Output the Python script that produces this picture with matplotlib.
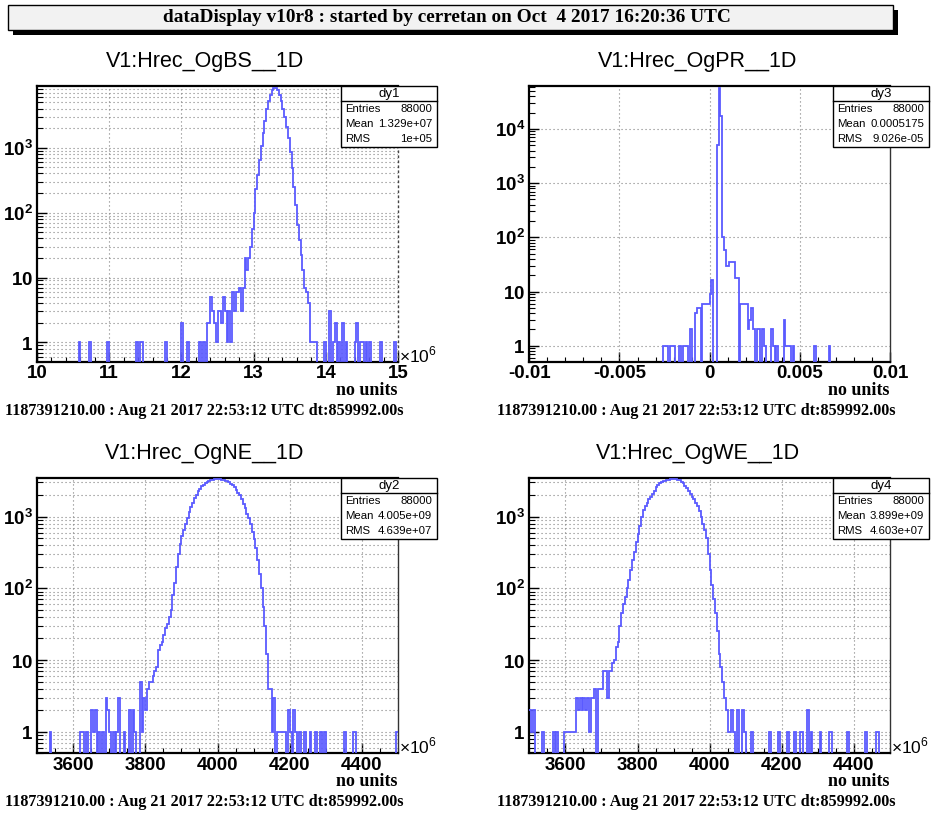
import numpy as np
import matplotlib
matplotlib.use("Agg")
import matplotlib.pyplot as plt
from matplotlib.patches import Rectangle
from matplotlib.lines import Line2D
from matplotlib.ticker import FixedLocator, LogLocator, FuncFormatter, NullFormatter

W, H = 932, 816
plt.rcParams['mathtext.fontset'] = 'custom'
plt.rcParams['mathtext.rm'] = 'Liberation Sans'
plt.rcParams['mathtext.bf'] = 'Liberation Sans:bold'
SANS = 'Liberation Sans'
SERIF = 'Liberation Serif'
LINE = '#5a5aff'
NBINS = 200
TICKFS = 13.5

# ---------------- data: per-bin counts (200 bins per histogram) ----------------
# V1:Hrec_OgBS__1D, x in units of 1e6
bs_range = (10.0, 15.0)
bs_core_first = 94
bs_core_counts = [2, 2, 5, 3, 2, 1, 3, 3, 2, 5, 3, 1, 3, 1, 6, 3, 6, 6, 7, 3, 7, 20, 13, 20, 30,
                  55, 100, 230, 380, 650, 1050, 1700, 2600, 4000, 5300, 6500, 7600, 8200, 8260, 7600,
                  6450, 5300, 4000, 3000, 2100, 1400, 850, 480, 250, 130, 65, 38, 22, 13, 7, 6, 4]
bs_tail_bins = [23, 29, 39, 55, 57, 58, 71, 80, 83, 90, 92,
                151, 152, 153, 154, 159, 162, 164, 165, 167, 169, 171, 176, 177, 179, 180, 182, 184, 190, 198]
bs_tail_counts = [1, 1, 1, 1, 1, 1, 1, 2, 1, 1, 1,
                  1, 1, 1, 1, 1, 3, 1, 2, 1, 2, 1, 1, 2, 1, 1, 1, 1, 1, 1]

# V1:Hrec_OgPR__1D
pr_range = (-0.01, 0.01)
pr_bins = [74, 75, 76, 78, 79, 80, 83, 85, 86, 87, 89, 92, 93, 94, 96, 97, 98, 99, 100, 101,
           104, 105, 106, 107, 108, 109, 110, 111, 112, 113, 114, 115, 117, 118, 119, 120,
           121, 122, 123, 124, 126, 127, 129, 130, 134, 135, 137, 141, 142, 143, 144, 146, 158, 166]
pr_counts = [1, 1, 1, 1, 1, 1, 1, 1, 1, 1, 2, 4, 5, 5, 6, 6, 6, 6, 9, 16,
             5000, 58000, 17000, 100, 58, 29, 29, 35, 35, 35, 18, 18, 6, 6, 6, 6,
             2, 3, 5, 2, 2, 2, 2, 1, 2, 1, 1, 3, 1, 1, 1, 1, 1, 1]

# V1:Hrec_OgNE__1D, x in units of 1e6
ne_range = (3500.0, 4500.0)
ne_core_first = 56
ne_core_counts = [0, 5, 1, 3, 2, 4, 5, 5, 6, 7, 8, 14, 16, 18, 22, 28, 32, 40, 50, 80,
                  120, 200, 300, 420, 530, 650, 800, 950, 1150, 1350, 1550, 1800, 2000, 2250, 2450,
                  2650, 2800, 2950, 3050, 3150, 3220, 3270, 3300, 3320, 3320, 3310, 3280, 3240, 3180,
                  3100, 3000, 2880, 2730, 2550, 2350, 2150, 2000, 1750, 1500, 1300, 1100, 950, 780,
                  620, 480, 360, 250, 160, 100, 55, 30, 12, 4, 4, 1]
ne_tail_bins = [7, 24, 25, 27, 30, 31, 32, 34, 36, 38, 39, 40, 42, 44, 45, 48, 51, 53, 54,
                131, 133, 134, 135, 136, 137, 139, 140, 142, 143, 145, 148, 151, 154, 157, 159,
                170, 175, 176, 199]
ne_tail_counts = [1, 1, 1, 1, 2, 1, 2, 1, 1, 3, 2, 1, 1, 1, 3, 1, 2, 2, 1,
                  3, 1, 1, 1, 1, 1, 2, 1, 2, 1, 1, 1, 1, 1, 1, 1,
                  1, 1, 1, 1]

# V1:Hrec_OgWE__1D, x in units of 1e6
we_range = (3500.0, 4500.0)
we_core_first = 36
we_core_counts = [4, 0, 4, 4, 4, 7, 7, 3, 7, 7, 9, 10, 15, 18, 30, 45, 60, 75, 100, 130,
                  180, 250, 320, 440, 580, 750, 1000, 1250, 1400, 1550, 1750, 1900, 2100, 2300,
                  2550, 2750, 2900, 3000, 3100, 3150, 3200, 3250, 3300, 3320, 3320, 3300, 3250,
                  3200, 3050, 2900, 2700, 2500, 2250, 2050, 1900, 1750, 1550, 1400, 1200, 1000,
                  800, 650, 500, 300, 180, 110, 70, 45, 25, 12, 8, 5, 3, 2]
we_tail_bins = [0, 1, 2, 7, 13, 15, 19, 20, 21, 22, 23, 24, 25, 26, 27, 28, 29, 30, 31, 32, 33, 34, 35,
                110, 111, 112, 113, 115, 118, 119, 123, 133, 138, 143, 147, 150, 151, 154, 156,
                161, 166, 167, 176, 186, 192, 193]
we_tail_counts = [2, 1, 2, 1, 1, 1, 1, 1, 1, 1, 1, 1, 1, 3, 2, 3, 2, 3, 2, 3, 1, 3, 3,
                  1, 1, 2, 1, 2, 2, 1, 1, 1, 1, 1, 1, 1, 1, 2, 1,
                  1, 1, 1, 1, 1, 1, 1]

stats = {
    'dy1': [('Entries', '88000'), ('Mean', '1.329e+07'), ('RMS', '1e+05')],
    'dy3': [('Entries', '88000'), ('Mean', '0.0005175'), ('RMS', '9.026e-05')],
    'dy2': [('Entries', '88000'), ('Mean', '4.005e+09'), ('RMS', '4.639e+07')],
    'dy4': [('Entries', '88000'), ('Mean', '3.899e+09'), ('RMS', '4.603e+07')],
}

run_title = 'dataDisplay v10r8 : started by cerretan on Oct  4 2017 16:20:36 UTC'
stamp = '1187391210.00 : Aug 21 2017 22:53:12 UTC dt:859992.00s'


def build(core_first=None, core=(), tail_bins=(), tail_counts=()):
    c = np.zeros(NBINS)
    for b, v in zip(tail_bins, tail_counts):
        c[b] = v
    if core_first is not None:
        c[core_first:core_first + len(core)] = core
    return c


bs_hist = build(bs_core_first, bs_core_counts, bs_tail_bins, bs_tail_counts)
pr_hist = build(None, (), pr_bins, pr_counts)
ne_hist = build(ne_core_first, ne_core_counts, ne_tail_bins, ne_tail_counts)
we_hist = build(we_core_first, we_core_counts, we_tail_bins, we_tail_counts)

# ---------------- layout helpers (pixel coordinates, origin top-left) ----------------
def fx(x):
    return x / W


def fy(y):
    return 1 - y / H


fig = plt.figure(figsize=(W / 100, H / 100), dpi=100)
fig.patch.set_facecolor('white')

# run banner with drop shadow
fig.add_artist(Rectangle((fx(13), fy(35)), (898 - 13) / W, 25 / H, transform=fig.transFigure,
                         facecolor='black', edgecolor='black', lw=0, zorder=1))
fig.add_artist(Rectangle((fx(8), fy(30)), (893 - 8) / W, 25 / H, transform=fig.transFigure,
                         facecolor='#f2f2f2', edgecolor='black', lw=1.0, zorder=2))
fig.text(fx(447), fy(17.5), run_title, ha='center', va='center', family=SERIF,
         fontweight='bold', fontsize=13.9, zorder=3)


def ylab(v, pos):
    e = int(round(np.log10(v)))
    if e == 0:
        return r'$\mathbf{1}$'
    if e == 1:
        return r'$\mathbf{10}$'
    return r'$\mathbf{10^{%d}}$' % e


def panel(rect, title, title_xy, hist, xr, ylim, xmajor, xlabels, xminor, box_rect, box_name,
          ymin_grid=True, mult=True, dotted_right=False):
    l, t, r, b = rect
    ax = fig.add_axes([fx(l), fy(b), (r - l) / W, (b - t) / H])
    edges = np.linspace(xr[0], xr[1], NBINS + 1)
    vals = np.where(hist > 0, hist, 1e-3)
    ax.set_yscale('log')
    ax.stairs(vals, edges, baseline=None, color=LINE, lw=1.3, zorder=3)
    ax.set_xlim(*xr)
    ax.set_ylim(*ylim)

    ax.xaxis.set_major_locator(FixedLocator(xmajor))
    ax.set_xticklabels(xlabels, family=SANS, fontweight='bold', fontsize=TICKFS)
    ax.xaxis.set_minor_locator(FixedLocator(xminor))
    ax.yaxis.set_major_locator(LogLocator(base=10))
    ax.yaxis.set_minor_locator(LogLocator(base=10, subs=np.arange(2, 10)))
    ax.yaxis.set_major_formatter(FuncFormatter(ylab))
    ax.yaxis.set_minor_formatter(NullFormatter())
    ax.tick_params(axis='x', which='major', direction='in', length=7, width=1.0, pad=2.5,
                   top=False, labelsize=TICKFS)
    ax.tick_params(axis='x', which='minor', direction='in', length=3.5, width=0.8, top=False)
    ax.tick_params(axis='y', which='major', direction='in', length=7, width=1.0, pad=3,
                   right=False, labelsize=TICKFS)
    ax.tick_params(axis='y', which='minor', direction='in', length=4, width=0.8, right=False)

    dot = (0, (1, 2.6))
    for xv in xmajor:
        if xr[0] < xv < xr[1]:
            ax.axvline(xv, color='#808080', lw=0.8, ls=dot, zorder=1)
    ax.grid(False)
    ax.yaxis.grid(True, which='major', color='#808080', lw=0.8, ls=dot, zorder=1)
    if ymin_grid:
        ax.yaxis.grid(True, which='minor', color='#808080', lw=0.8, ls=dot, zorder=1)
    ax.set_axisbelow(True)

    for s in ('left', 'bottom', 'top'):
        ax.spines[s].set_linewidth(1.6)
        ax.spines[s].set_color('black')
    if dotted_right:
        ax.spines['right'].set_linestyle(dot)
        ax.spines['right'].set_color('#444444')
        ax.spines['right'].set_linewidth(1.0)
    else:
        ax.spines['right'].set_linewidth(1.0)
        ax.spines['right'].set_color('#333333')

    # title, axis annotations
    fig.text(fx(title_xy[0]), fy(title_xy[1]), title, ha='center', va='center',
             family=SANS, fontsize=15.5)
    if mult:
        fig.text(fx(r + 1), fy(b), r'$\times10^{6}$', ha='left', va='baseline',
                 family=SANS, fontsize=12.5)
    fig.text(fx(r), fy(b + 28), 'no units', ha='right', va='center', family=SERIF,
             fontweight='bold', fontsize=13)
    fig.text(fx(l - 32), fy(b + 49), stamp, ha='left', va='center', family=SERIF,
             fontweight='bold', fontsize=11.6)

    # statistics box
    bl, bt, br, bb = box_rect
    fig.add_artist(Rectangle((fx(bl), fy(bb)), (br - bl) / W, (bb - bt) / H,
                             transform=fig.transFigure, facecolor='white', edgecolor='black',
                             lw=1.0, zorder=10))
    hdr = bt + 15
    fig.add_artist(Line2D([fx(bl), fx(br)], [fy(hdr), fy(hdr)], transform=fig.transFigure,
                          color='black', lw=1.0, zorder=11))
    fig.text(fx((bl + br) / 2), fy(bt + 7.8), box_name, ha='center', va='center',
             family=SANS, fontsize=9.5, zorder=12)
    rows_y = np.linspace(hdr + 7.8, bb - 7.5, 3)
    for (k, v), yy in zip(stats[box_name], rows_y):
        fig.text(fx(bl + 4), fy(yy), k, ha='left', va='center', family=SANS,
                 fontsize=8.2, zorder=12)
        fig.text(fx(br - 5), fy(yy), v, ha='right', va='center', family=SANS,
                 fontsize=8.2, zorder=12)
    return ax


ne_major = [3600, 3800, 4000, 4200, 4400]
ne_minor = list(np.arange(3500, 4501, 50))

panel((37, 86, 398, 362), 'V1:Hrec_OgBS__1D', (205, 62), bs_hist, bs_range, (0.5, 8900),
      [10, 11, 12, 13, 14, 15], ['10', '11', '12', '13', '14', '15'],
      list(np.arange(10, 15.01, 0.2)), (341, 86, 437, 147), 'dy1', dotted_right=True)
panel((529.3, 86, 890, 362), 'V1:Hrec_OgPR__1D', (697.5, 62), pr_hist, pr_range, (0.5, 62000),
      [-0.01, -0.005, 0, 0.005, 0.01], ['-0.01', '-0.005', '0', '0.005', '0.01'],
      list(np.arange(-0.01, 0.01001, 0.001)), (833, 86, 929, 147), 'dy3',
      ymin_grid=False, mult=False)
panel((37, 477.7, 398, 753.3), 'V1:Hrec_OgNE__1D', (205, 454), ne_hist, ne_range, (0.5, 3490),
      ne_major, [str(v) for v in ne_major], ne_minor, (341, 478, 437, 539), 'dy2')
panel((529.3, 477.7, 890, 753.3), 'V1:Hrec_OgWE__1D', (697.5, 454), we_hist, we_range,
      (0.5, 3490), ne_major, [str(v) for v in ne_major], ne_minor, (833, 478, 929, 539), 'dy4')

fig.savefig('out.png', dpi=100, facecolor='white')
